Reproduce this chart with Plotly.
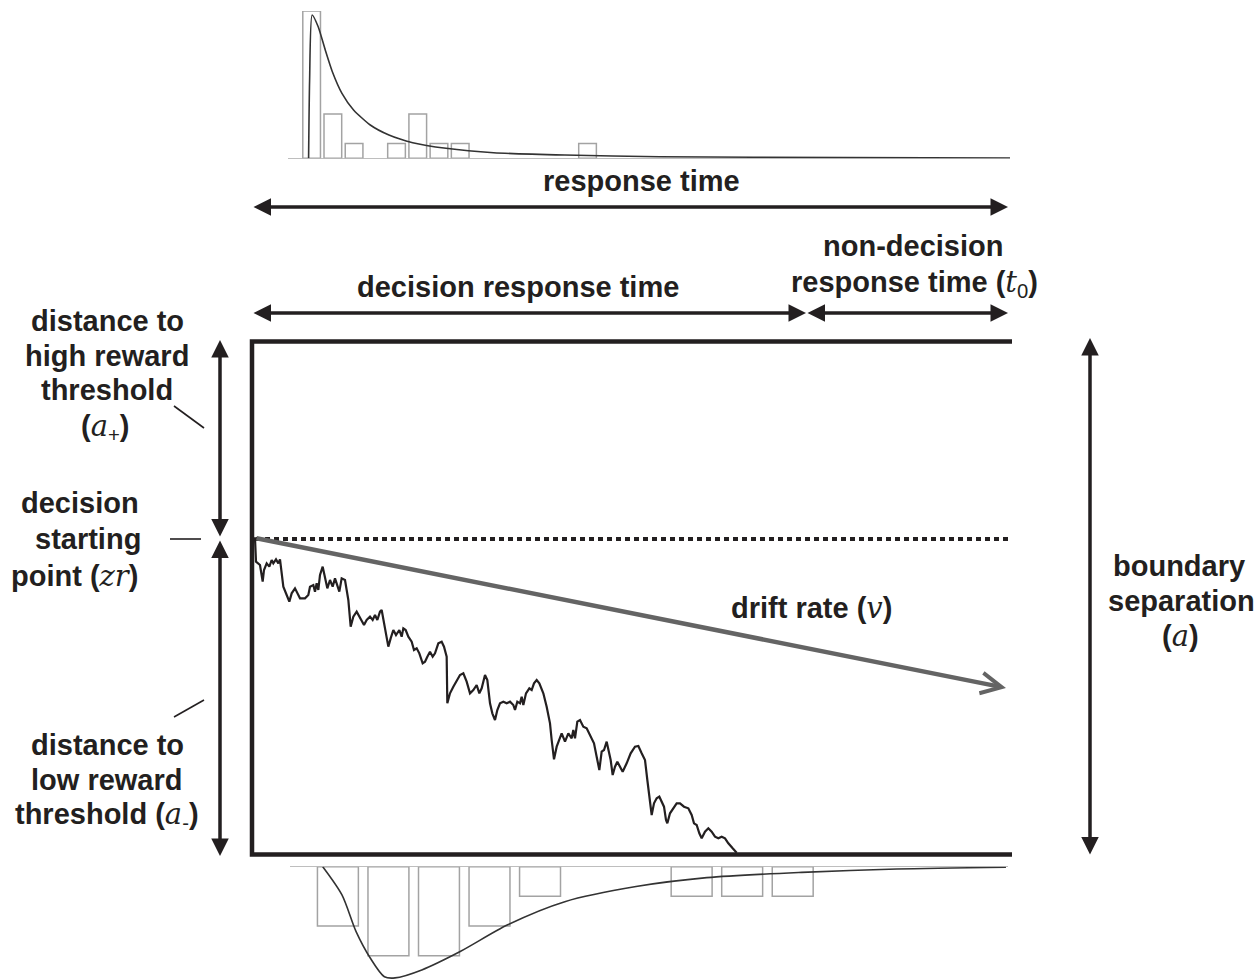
import plotly.graph_objects as go

W, H = 1259, 980
INK = '#231f20'
GREY = '#a3a3a3'
DRIFT = '#646464'
FONT = 'Liberation Sans'
SIZE = 29

# response time histograms (bin centre in ms, trial counts)
upper_rt = [118, 160, 202, 286, 328, 370, 412, 664]
upper_count = [10, 3, 1, 1, 3, 1, 1, 1]
lower_rt = [170, 270, 370, 470, 570, 870, 970, 1070]
lower_count = [2, 3, 3, 2, 1, 1, 1, 1]

# fitted RT densities (count units)
upper_curve_rt = [112, 114, 119, 131, 145, 159, 178, 201, 234, 271, 318, 384, 478, 619, 806, 993, 1500]
upper_curve = [0, 5.3, 9.73, 8.93, 7.35, 5.88, 4.41, 3.28, 2.26, 1.58, 1.06, 0.68, 0.38, 0.22, 0.11, 0.07, 0.01]
lower_curve_rt = [140, 178, 206, 234, 262, 283, 336, 412, 506, 619, 760, 900, 1088, 1276, 1492]
lower_curve = [0, 0.95, 2.19, 3.08, 3.71, 3.75, 3.48, 2.86, 1.96, 1.18, 0.67, 0.37, 0.19, 0.08, 0.02]

# one sampled diffusion path (time step, drop below the upper boundary)
walk_step = [42, 45, 48, 60, 68, 72, 80, 88, 95, 100,
             108, 115, 120, 125, 130, 140, 148, 155, 165, 175,
             180, 195, 205, 210, 220, 225, 230, 235, 240, 248,
             255, 262, 270, 278, 285, 293, 298, 305, 315, 320,
             325, 332, 340, 350, 358, 365, 372, 380, 390, 398,
             405, 412, 420, 425, 430, 438, 445, 452, 460, 468,
             478, 485, 490, 497, 505, 515, 522, 530, 538, 548,
             555, 562, 570, 578, 585, 595, 605, 612, 620, 622,
             630, 640, 650, 660, 670, 680, 690, 700, 710, 718,
             725, 735, 742, 750, 757, 765, 772, 780, 790, 800,
             810, 820, 825, 832, 840, 845, 850, 858, 868, 875,
             882, 890, 898, 910, 920, 930, 935, 942, 950, 958,
             965, 975, 985, 995, 1000, 1005, 1012, 1020, 1030, 1040,
             1052, 1062, 1070, 1078, 1085, 1092, 1100, 1105, 1112, 1118,
             1125, 1132, 1140, 1148, 1160, 1172, 1185, 1195, 1205, 1215,
             1222, 1228, 1235, 1242, 1250, 1258, 1265, 1272, 1278, 1282,
             1290, 1300, 1310, 1320, 1332, 1345, 1355, 1362, 1370, 1378,
             1385, 1395, 1405, 1415, 1425, 1435, 1445, 1455, 1465, 1478,
             1490]
walk_drop = [55, 55, 125, 135, 185, 150, 130, 140, 120, 130,
             118, 130, 118, 160, 200, 225, 245, 220, 205, 225,
             235, 235, 225, 200, 195, 215, 190, 210, 165, 140,
             175, 205, 180, 200, 175, 200, 215, 175, 180, 210,
             240, 320, 290, 275, 290, 300, 315, 300, 290, 300,
             285, 300, 275, 270, 300, 335, 380, 355, 330, 345,
             330, 350, 325, 330, 350, 365, 390, 385, 400, 430,
             425, 410, 395, 410, 400, 370, 365, 380, 410, 550,
             520, 500, 480, 465, 460, 485, 520, 510, 495, 520,
             505, 465, 480, 550, 580, 600, 570, 550, 545, 550,
             545, 555, 570, 545, 550, 530, 555, 520, 505, 510,
             490, 480, 490, 520, 560, 610, 660, 718, 680, 655,
             640, 665, 640, 655, 630, 655, 605, 600, 620, 625,
             650, 670, 710, 750, 695, 690, 665, 690, 720, 765,
             740, 725, 740, 755, 730, 700, 680, 678, 700, 720,
             780, 830, 885, 850, 835, 830, 845, 860, 900, 910,
             880, 865, 850, 850, 860, 865, 885, 910, 915, 940,
             955, 935, 925, 935, 950, 955, 950, 955, 970, 985,
             998]


def math(s):
    return f'<i><span style="font-family:DejaVu Serif">{s}</span></i>'


def label(x, y, text, size=SIZE):
    return dict(x=x, y=y, xref='x', yref='y', text=text, showarrow=False,
                font=dict(family=FONT, size=size, color=INK),
                xanchor='center', yanchor='middle')


def arrow(x0, y0, x1, y1, both=True, color=INK, width=3.5, head=2, size=1.0):
    return dict(x=x1, y=y1, ax=x0, ay=y0, xref='x', yref='y', axref='x', ayref='y',
                text='', showarrow=True, arrowhead=head, startarrowhead=head,
                arrowside='end+start' if both else 'end',
                arrowwidth=width, arrowsize=size, startarrowsize=size,
                arrowcolor=color, standoff=0, startstandoff=0)


fig = go.Figure()

# histograms
fig.add_trace(go.Bar(x=upper_rt, y=upper_count, width=35, xaxis='x2', yaxis='y2',
                     marker=dict(color='rgba(0,0,0,0)', line=dict(color=GREY, width=1.5))))
fig.add_trace(go.Bar(x=lower_rt, y=lower_count, width=81, xaxis='x2', yaxis='y3',
                     marker=dict(color='rgba(0,0,0,0)', line=dict(color=GREY, width=1.5))))
fig.add_trace(go.Scatter(x=upper_curve_rt, y=upper_curve, mode='lines', xaxis='x2', yaxis='y2',
                         line=dict(color='#333', width=1.6, shape='spline', smoothing=0.6)))
fig.add_trace(go.Scatter(x=lower_curve_rt, y=lower_curve, mode='lines', xaxis='x2', yaxis='y3',
                         line=dict(color='#333', width=1.6, shape='spline', smoothing=0.8)))

# diffusion path
fig.add_trace(go.Scatter(x=walk_step, y=walk_drop, mode='lines', xaxis='x3', yaxis='y4',
                         line=dict(color=INK, width=2.2)))

shapes = [
    # decision boundaries
    dict(type='path', path='M 1012 341.5 L 252 341.5 L 252 854.5 L 1012 854.5',
         line=dict(color=INK, width=4.5)),
    # starting point
    dict(type='line', x0=256, y0=539, x1=1010, y1=539,
         line=dict(color=INK, width=4, dash='5px,4px')),
    # leader lines
    dict(type='line', x0=174, y0=406, x1=204, y1=428, line=dict(color=INK, width=1.6)),
    dict(type='line', x0=170, y0=539, x1=201, y1=539, line=dict(color=INK, width=1.6)),
    dict(type='line', x0=174, y0=717, x1=204, y1=700, line=dict(color=INK, width=1.6)),
    # histogram baselines
    dict(type='line', x0=288, y0=158.3, x1=1010, y1=158.3, line=dict(color=GREY, width=1.2)),
    dict(type='line', x0=290, y0=866.7, x1=1008, y1=866.7, line=dict(color=GREY, width=1.2)),
]
for s in shapes:
    s.update(xref='x', yref='y', layer='below')

annotations = [
    arrow(252, 207, 1008, 207),
    arrow(252, 313, 806, 313),
    arrow(806, 313, 1008, 313),
    arrow(220, 538, 220, 340),
    arrow(220, 539, 220, 856),
    arrow(1090, 856, 1090, 338),
    arrow(255, 538, 1006, 688, both=False, color=DRIFT, width=4.5, head=5, size=0.9),
    label(641, 181, '<b>response time</b>'),
    label(518, 287, '<b>decision response time</b>'),
    label(913, 246, '<b>non-decision</b>'),
    label(914, 283, '<b>response time (</b>' + math('t') + '<sub>0</sub><b>)</b>'),
    label(811, 608, '<b>drift rate (</b>' + math('v') + '<b>)</b>'),
    label(107, 321, '<b>distance to</b>'),
    label(107, 356, '<b>high reward</b>'),
    label(107, 390, '<b>threshold</b>'),
    label(105, 427, '<b>(</b>' + math('a') + '<sub>+</sub><b>)</b>'),
    label(80, 503, '<b>decision</b>'),
    label(88, 539, '<b>starting</b>'),
    label(74, 576, '<b>point (</b>' + math('zr') + '<b>)</b>'),
    label(107, 745, '<b>distance to</b>'),
    label(107, 780, '<b>low reward</b>'),
    label(107, 815, '<b>threshold (</b>' + math('a') + '<sub>-</sub><b>)</b>'),
    label(1179, 566, '<b>boundary</b>'),
    label(1181, 601, '<b>separation</b>'),
    label(1180, 636, '<b>(</b>' + math('a') + '<b>)</b>'),
]

hidden = dict(visible=False, showgrid=False, zeroline=False, fixedrange=True)
fig.update_layout(
    width=W, height=H,
    margin=dict(l=0, r=0, t=0, b=0),
    paper_bgcolor='white', plot_bgcolor='white',
    showlegend=False, barmode='overlay',
    xaxis=dict(range=[0, W], domain=[0, 1], **hidden),
    yaxis=dict(range=[H, 0], domain=[0, 1], **hidden),
    # time axis shared by both histograms
    xaxis2=dict(range=[0, 1500], domain=[252 / W, 1010 / W], anchor='y2', **hidden),
    yaxis2=dict(range=[0, 10], domain=[(H - 158.3) / H, (H - 11) / H], anchor='x2', **hidden),
    yaxis3=dict(range=[3.82, 0], domain=[0, (H - 866.7) / H], anchor='x2', **hidden),
    # diffusion path axes
    xaxis3=dict(range=[-240 * 3, (W - 240) * 3], overlaying='x', anchor='y4', **hidden),
    yaxis4=dict(range=[(H - 520) * 3, -520 * 3], overlaying='y', anchor='x3', **hidden),
    shapes=shapes,
    annotations=annotations,
)

# drop the browser's default body margin so the figure sits at the page corner
fig.write_html("out.html", config={'displayModeBar': False},
               post_script="document.body.style.margin = '0';")
